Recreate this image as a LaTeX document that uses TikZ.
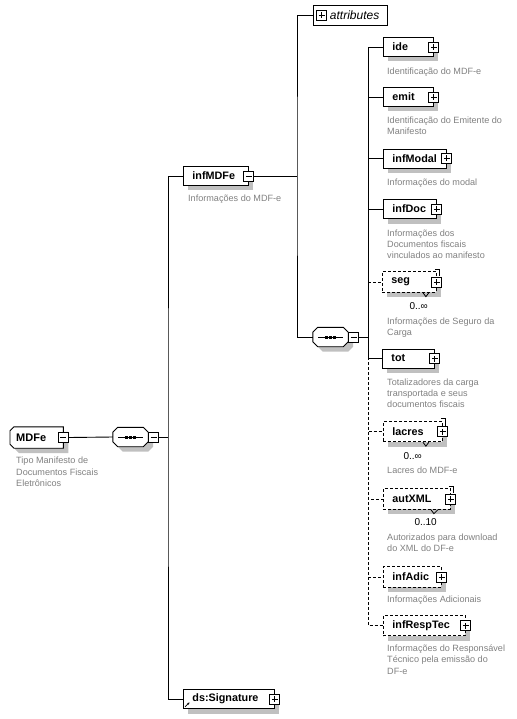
\documentclass[tikz,border=0pt]{standalone}
\usepackage{fontspec}
\setmainfont{Liberation Sans}
\usetikzlibrary{shadows,arrows.meta,backgrounds}
\definecolor{descgray}{RGB}{128,128,128}
\definecolor{shadegray}{RGB}{192,192,192}
\tikzset{
  boxshadow/.style={general shadow={fill=shadegray, shadow xshift=5pt, shadow yshift=-5pt}},
  elembox/.style={draw, line width=0.9pt, fill=white, rectangle, anchor=west, minimum height=19pt, inner ysep=0pt, inner xsep=9pt, align=left, font=\fontsize{10.8}{12}\selectfont\bfseries, boxshadow},
  optbox/.style={elembox, minimum height=20.5pt, dash pattern=on 3pt off 2pt},
  pmbox/.style={draw, solid, line width=0.9pt, fill=white, rectangle, minimum size=10pt, inner sep=0pt},
  plusbox/.style={pmbox, path picture={\draw[line width=0.9pt] ([xshift=-3pt]path picture bounding box.center) -- ([xshift=3pt]path picture bounding box.center) ([yshift=-3pt]path picture bounding box.center) -- ([yshift=3pt]path picture bounding box.center);}},
  minusbox/.style={pmbox, path picture={\draw[line width=0.9pt] ([xshift=-3pt]path picture bounding box.center) -- ([xshift=3pt]path picture bounding box.center);}},
  desc/.style={anchor=north west, inner sep=0pt, text=descgray, align=left, font=\fontsize{9.1}{11.3}\selectfont},
  card/.style={anchor=base east, inner sep=0pt, font=\fontsize{10}{12}\selectfont},
  conn/.style={line width=0.9pt},
  optconn/.style={conn, dash pattern=on 3pt off 2pt},
  plainnode/.style={rectangle, inner sep=0pt},
  shapeline/.style={line width=0.9pt, fill=white, boxshadow},
  multimark/.style={line width=0.8pt},
}
\begin{document}
\begin{tikzpicture}[x=1pt,y=-1pt]
\useasboundingbox (0,0) rectangle (516,719);

% ---------- root element ----------
\node[plainnode, minimum width=53pt, minimum height=21pt, text width=41pt, inner xsep=6pt, align=left, font=\fontsize{11}{13}\selectfont\bfseries, anchor=west] (MDFe) at (10,437.5) {MDFe};
\node[minusbox] (MDFe-pm) at (MDFe.east) {};
\node[desc] (MDFe-d) at (16,457) {Tipo Manifesto de\\Documentos Fiscais\\Eletrônicos};

% ---------- sequence compositors ----------
\node[plainnode, minimum width=35pt, minimum height=19pt] (seqA) at (130.5,437) {};
\node[minusbox, anchor=west] (seqA-pm) at (seqA.east) {};
\node[plainnode, minimum width=35pt, minimum height=19pt] (seqB) at (330.5,337) {};
\node[minusbox, anchor=west] (seqB-pm) at (seqB.east) {};

\begin{scope}[on background layer]
\draw[shapeline] ([xshift=4pt]MDFe.north west) -- (MDFe.north east) -- (MDFe.south east) -- ([xshift=4pt]MDFe.south west) -- ([yshift=4pt]MDFe.south west) -- ([yshift=-4pt]MDFe.north west) -- cycle;
\foreach \s in {seqA,seqB}{
\draw[shapeline] ([xshift=5pt]\s.north west) -- ([xshift=-5pt]\s.north east) -- ([yshift=-5pt]\s.north east) -- ([yshift=5pt]\s.south east) -- ([xshift=-5pt]\s.south east) -- ([xshift=5pt]\s.south west) -- ([yshift=5pt]\s.south west) -- ([yshift=-5pt]\s.north west) -- cycle;
}
\end{scope}
\foreach \s in {seqA,seqB}{
\draw[conn] ([xshift=-12.5pt]\s.center) -- ([xshift=12.5pt]\s.center);
\fill ([xshift=-5.5pt,yshift=1.5pt]\s.center) rectangle ++(3,3);
\fill ([xshift=-1.5pt,yshift=1.5pt]\s.center) rectangle ++(3,3);
\fill ([xshift=2.5pt,yshift=1.5pt]\s.center) rectangle ++(3,3);
}

% ---------- level 1 ----------
\node[elembox, text width=47pt] (infMDFe) at (183,176) {infMDFe};
\node[minusbox] (infMDFe-pm) at (infMDFe.east) {};
\node[desc] (infMDFe-d) at (188,194.5) {Informações do MDF-e};

\node[elembox, text width=73pt] (sig) at (183,699) {ds:Signature};
\node[plusbox] (sig-pm) at (sig.east) {};
\draw[line width=0.7pt, -{Stealth[length=2.5pt,width=2.5pt]}] ([xshift=2pt,yshift=2pt]sig.south west) -- ++(4.5,-4.5);

% ---------- level 2 ----------
\node[draw, line width=0.9pt, fill=white, rectangle, anchor=west, minimum height=20pt, inner ysep=0pt, inner xsep=8pt, text width=58pt, align=left, font=\fontsize{12}{14}\selectfont\itshape] (attr) at (313,15) {\hspace*{8.5pt}attributes};
\node[plusbox] (attr-pm) at ([xshift=8.5pt]attr.west) {};

% ---------- level 3 ----------
\node[elembox, text width=32pt] (ide) at (383,47) {ide};
\node[plusbox] (ide-pm) at (ide.east) {};
\node[desc] (ide-d) at (387,67.5) {Identificação do MDF-e};

\node[elembox, text width=32pt] (emit) at (383,97) {emit};
\node[plusbox] (emit-pm) at (emit.east) {};
\node[desc] (emit-d) at (387,116.5) {Identificação do Emitente do\\Manifesto};

\node[elembox, text width=45pt] (infModal) at (383,158.5) {infModal};
\node[plusbox] (infModal-pm) at (infModal.east) {};
\node[desc] (infModal-d) at (387,178.5) {Informações do modal};

\node[elembox, text width=35pt] (infDoc) at (383,209) {infDoc};
\node[plusbox] (infDoc-pm) at (infDoc.east) {};
\node[desc] (infDoc-d) at (387,229.5) {Informações dos\\Documentos fiscais\\vinculados ao manifesto};

\node[optbox, text width=36pt] (seg) at (382,282) {seg};
\node[plusbox] (seg-pm) at (seg.east) {};
\draw[multimark] ([xshift=-2pt,yshift=2pt]seg.north east) -- ([xshift=2pt,yshift=2pt]seg.north east) -- ([xshift=2pt,yshift=-5pt]seg.north east);
\draw[multimark] ([xshift=-14pt]seg.south east) -- ([xshift=-11pt,yshift=-4pt]seg.south east) -- ([xshift=-8pt]seg.south east);
\node[card] (seg-c) at (428,309) {0..∞};
\node[desc] (seg-d) at (387,317.5) {Informações de Seguro da\\Carga};

\node[elembox, text width=34pt] (tot) at (382,358.5) {tot};
\node[plusbox] (tot-pm) at (tot.east) {};
\node[desc] (tot-d) at (387,378.5) {Totalizadores da carga\\transportada e seus\\documentos fiscais};

\node[optbox, text width=41pt] (lacres) at (383,431.5) {lacres};
\node[plusbox] (lacres-pm) at (lacres.east) {};
\draw[multimark] ([xshift=-2pt,yshift=2pt]lacres.north east) -- ([xshift=2pt,yshift=2pt]lacres.north east) -- ([xshift=2pt,yshift=-5pt]lacres.north east);
\draw[multimark] ([xshift=-20pt]lacres.south east) -- ([xshift=-17pt,yshift=-4pt]lacres.south east) -- ([xshift=-14pt]lacres.south east);
\node[card] (lacres-c) at (422,459.5) {0..∞};
\node[desc] (lacres-d) at (387,466.5) {Lacres do MDF-e};

\node[optbox, text width=49pt] (autXML) at (383,499) {autXML};
\node[plusbox] (autXML-pm) at (autXML.east) {};
\draw[multimark] ([xshift=-2pt,yshift=2pt]autXML.north east) -- ([xshift=2pt,yshift=2pt]autXML.north east) -- ([xshift=2pt,yshift=-5pt]autXML.north east);
\draw[multimark] ([xshift=-20pt]autXML.south east) -- ([xshift=-17pt,yshift=-4pt]autXML.south east) -- ([xshift=-13pt]autXML.south east);
\node[card] (autXML-c) at (437,525.5) {0..10};
\node[desc] (autXML-d) at (387,533.5) {Autorizados para download\\do XML do DF-e};

\node[optbox, text width=40pt] (infAdic) at (383,577) {infAdic};
\node[plusbox] (infAdic-pm) at (infAdic.east) {};
\node[desc] (infAdic-d) at (387,595.5) {Informações Adicionais};

\node[optbox, text width=64pt] (infRespTec) at (383,625.5) {infRespTec};
\node[plusbox] (infRespTec-pm) at (infRespTec.east) {};
\node[desc] (infRespTec-d) at (387,644.5) {Informações do Responsável\\Técnico pela emissão do\\DF-e};

% ---------- connectors ----------
\coordinate (spA) at (168,437);
\coordinate (spB) at (297,176);
\coordinate (spC) at (368,337);

\draw[conn] (MDFe-pm.east) -- (seqA.west);
\draw[conn] (seqA-pm.east) -- (spA);
\draw[conn] (infMDFe.west) -| (spA) |- (sig.west);

\draw[conn] (infMDFe-pm.east) -- (spB);
\draw[conn] (attr.west) -| (spB) |- (seqB.west);

\draw[conn] (seqB-pm.east) -- (spC);
\foreach \e in {ide,emit,infModal,infDoc,tot}{
  \draw[conn] (spC) |- (\e.west);
}
\foreach \e in {seg,lacres,autXML,infAdic,infRespTec}{
  \draw[optconn] (spC) |- (\e.west);
}
\end{tikzpicture}
\end{document}
